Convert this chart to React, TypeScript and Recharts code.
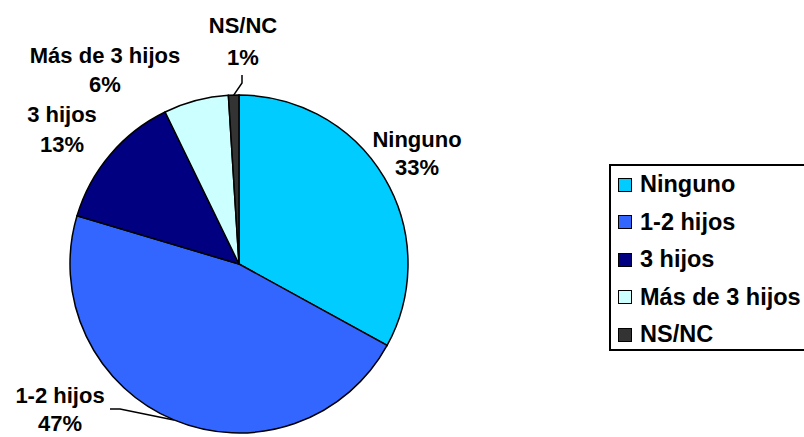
import { PieChart, Pie, Cell, Legend } from 'recharts'

const CATEGORIES = ['Ninguno', '1-2 hijos', '3 hijos', 'Más de 3 hijos', 'NS/NC']
const VALUES = [33.0, 46.6, 13.2, 6.2, 1.0]
const COLORS = ['#00CCFF', '#3366FF', '#000080', '#CCFFFF', '#333333']

// label placement, relative to the pie centre
const LABEL_LAYOUT: { dx: number; dy: number; gap: number; line?: [number, number][] }[] = [
  { dx: 178, dy: -117, gap: 28 },
  { dx: -179, dy: 139, gap: 28, line: [[-119, 145], [-129, 145]] },
  { dx: -177, dy: -142, gap: 30 },
  { dx: -134, dy: -201, gap: 29 },
  { dx: 4, dy: -231, gap: 32, line: [[3, -181], [3, -189]] },
]

const FONT = '"Liberation Sans", Arial, sans-serif'
const RADIAN = Math.PI / 180

const data = CATEGORIES.map((name, i) => ({ name, value: VALUES[i] }))

const renderLabel = (props: any) => {
  const { cx, cy, midAngle, outerRadius, percent, index, name } = props
  const lay = LABEL_LAYOUT[index]
  const x = cx + lay.dx
  const y = cy + lay.dy
  let path = null
  if (lay.line) {
    const px = cx + outerRadius * Math.cos(-midAngle * RADIAN)
    const py = cy + outerRadius * Math.sin(-midAngle * RADIAN)
    const pts = [[px - cx, py - cy], ...lay.line]
    const d = pts.map((p, k) => `${k === 0 ? 'M' : 'L'}${cx + p[0]},${cy + p[1]}`).join(' ')
    path = <path d={d} stroke="#000" strokeWidth={1.5} fill="none" />
  }
  return (
    <g key={`lbl-${index}`}>
      {path}
      <text x={x} y={y} textAnchor="middle" fontFamily={FONT} fontWeight="bold" fontSize={22} fill="#000">
        <tspan x={x}>{name}</tspan>
        <tspan x={x} dy={lay.gap}>{Math.round(percent * 100)}%</tspan>
      </text>
    </g>
  )
}

const LegendBox = () => (
  <div
    style={{
      border: '2px solid #000',
      width: 210,
      height: 183,
      boxSizing: 'content-box',
      background: '#fff',
      fontFamily: FONT,
      fontWeight: 'bold',
      fontSize: 23.5,
    }}
  >
    {CATEGORIES.map((c, i) => (
      <div key={c} style={{ height: 37.5, display: 'flex', alignItems: 'center', whiteSpace: 'nowrap' }}>
        <span
          style={{
            display: 'inline-block',
            width: 12,
            height: 12,
            border: '1.5px solid #000',
            background: COLORS[i],
            marginLeft: 7,
            marginRight: 8,
          }}
        />
        <span>{c}</span>
      </div>
    ))}
  </div>
)

export default function App() {
  return (
    <div style={{ position: 'absolute', left: 0, top: 0, width: 804, height: 437, overflow: 'hidden', background: '#fff' }}>
      <PieChart width={804} height={437} margin={{ top: 0, right: 0, bottom: 0, left: 0 }}>
        <Pie
          data={data}
          dataKey="value"
          nameKey="name"
          cx={239}
          cy={264}
          outerRadius={169}
          startAngle={90}
          endAngle={-270}
          stroke="#000"
          strokeWidth={1.5}
          label={renderLabel}
          labelLine={false}
          isAnimationActive={false}
        >
          {data.map((d, i) => (
            <Cell key={d.name} fill={COLORS[i]} />
          ))}
        </Pie>
        <Legend
          content={() => <LegendBox />}
          wrapperStyle={{ position: 'absolute', left: 609, top: 164, width: 'auto' }}
        />
      </PieChart>
    </div>
  )
}
